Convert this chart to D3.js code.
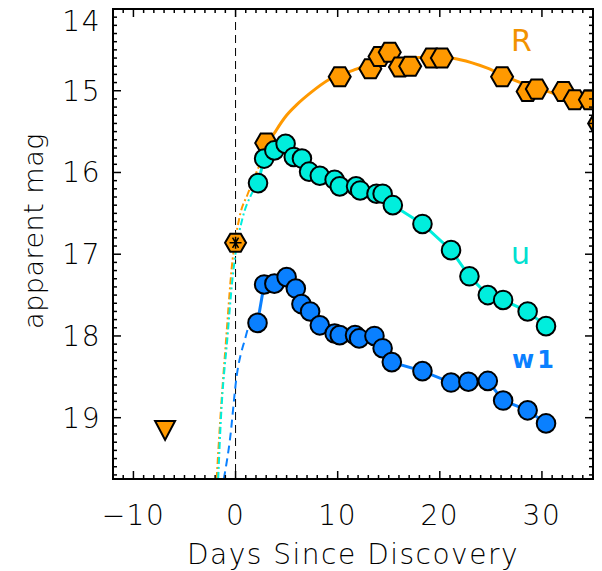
<!DOCTYPE html>
<html><head><meta charset="utf-8">
<script src="https://cdn.jsdelivr.net/npm/d3@7"></script>
<style>
html,body{margin:0;padding:0;background:#fff;}
svg text{font-family:"DejaVu Sans","Liberation Sans",sans-serif;font-weight:200;}
</style></head>
<body><svg id="c" width="602" height="571"></svg>
<script>
// ---- data ----
const rDays = [3.0,10.2,13.2,14.1,15.1,16.1,17.1,19.2,20.2,26.1,28.6,29.5,32.1,33.2,34.7,35.6];
const rMag  = [15.64,14.83,14.73,14.58,14.53,14.71,14.70,14.60,14.60,14.83,15.01,14.98,15.01,15.11,15.11,15.40];
const rDiscDay = [0.0];
const rDiscMag = [16.86];
const rLimDay = [-6.9];
const rLimMag = [19.15];
const uDays = [2.2,2.8,3.8,4.9,5.7,6.5,7.2,8.25,9.7,10.2,11.8,12.2,13.8,14.4,15.4,18.3,21.1,22.9,24.7,26.2,28.6,30.4];
const uMag  = [16.13,15.83,15.73,15.65,15.81,15.83,15.99,16.04,16.09,16.17,16.17,16.22,16.26,16.26,16.40,16.63,16.95,17.27,17.50,17.56,17.70,17.88];
const w1Days = [2.15,2.8,3.8,5.0,5.9,6.45,7.3,8.25,9.7,10.2,11.7,12.1,13.6,14.4,15.3,18.3,21.1,22.8,24.7,26.2,28.6,30.4];
const w1Mag  = [17.84,17.37,17.36,17.28,17.42,17.61,17.70,17.87,17.97,17.99,17.99,18.03,18.00,18.15,18.32,18.43,18.57,18.56,18.55,18.79,18.91,19.07];
// fitted / extrapolated curves
const rFitEarlyDays = [-1.85,-1.5,-0.9,-0.4,0.4,1.2,2.0,2.6];
const rFitEarlyMag  = [19.75,19.03,18.0,17.2,16.54,16.26,16.01,15.84];
const rFitDays = [2.6,3.0,4.0,5.0,6.0,7.3,9.2,11.5,13.1,15,17,19,21,22,24.6,27.1,29,31.1,33,35];
const rFitMag  = [15.84,15.70,15.48,15.30,15.17,15.03,14.86,14.75,14.68,14.63,14.60,14.59,14.60,14.62,14.72,14.86,14.95,15.03,15.10,15.17];
const uExtDays = [-1.7,-1.44,-0.78,-0.3,0.0,0.7,1.5,2.2];
const uExtMag  = [19.75,19.03,18.0,17.3,16.99,16.55,16.28,16.13];
const w1ExtDays = [-1.15,-0.56,0.1,0.9,1.7,2.15];
const w1ExtMag  = [19.75,19.28,18.5,18.05,17.78,17.84];
const xTicks = [-10,0,10,20,30];
const yTicks = [14,15,16,17,18,19];
const labels = ["R","u","w1"];

// ---- layout ----
const L=113, R=593, T=9, B=479;
const x = d3.scaleLinear().domain([-12,35]).range([L,R]);
const y = d3.scaleLinear().domain([14,19.75]).range([T,B]);
const svg = d3.select("#c");
const ORANGE="#FF9900", CYAN="#00EEDD", BLUE="#0A80FF";

svg.append("defs").append("clipPath").attr("id","clip")
  .append("rect").attr("x",L).attr("y",T).attr("width",R-L).attr("height",B-T);
const g = svg.append("g").attr("clip-path","url(#clip)");

// discovery line
g.append("line").attr("x1",x(0)).attr("x2",x(0)).attr("y1",T).attr("y2",B)
  .attr("stroke","#000").attr("stroke-width",1).attr("stroke-dasharray","8,5");

const zip=(a,b)=>a.map((v,i)=>[v,b[i]]);
const smooth = d3.line().x(d=>x(d[0])).y(d=>y(d[1])).curve(d3.curveMonotoneX);
const straight = d3.line().x(d=>x(d[0])).y(d=>y(d[1]));

g.append("path").attr("d",smooth(zip(rFitEarlyDays,rFitEarlyMag))).attr("fill","none")
  .attr("stroke",ORANGE).attr("stroke-width",2).attr("stroke-dasharray","7,3,2,3");
g.append("path").attr("d",smooth(zip(uExtDays,uExtMag))).attr("fill","none")
  .attr("stroke",CYAN).attr("stroke-width",2).attr("stroke-dasharray","7,3,2,3");
g.append("path").attr("d",smooth(zip(w1ExtDays,w1ExtMag))).attr("fill","none")
  .attr("stroke",BLUE).attr("stroke-width",2).attr("stroke-dasharray","8,5");
g.append("path").attr("d",smooth(zip(rFitDays,rFitMag))).attr("fill","none")
  .attr("stroke",ORANGE).attr("stroke-width",3);
g.append("path").attr("d",straight(zip(uDays,uMag))).attr("fill","none")
  .attr("stroke",CYAN).attr("stroke-width",3);
g.append("path").attr("d",straight(zip(w1Days,w1Mag))).attr("fill","none")
  .attr("stroke",BLUE).attr("stroke-width",3);

// markers
const hex = r => { const p=[]; for(let i=0;i<6;i++){const a=Math.PI/3*i; p.push([r*Math.cos(a), r*Math.sin(a)]);} return "M"+p.map(q=>q.join(",")).join("L")+"Z"; };
const H = hex(11);
g.selectAll(".lim").data(zip(rLimDay,rLimMag)).join("path")
  .attr("transform",d=>`translate(${x(d[0])},${y(d[1])})`)
  .attr("d","M-10,-9L10,-9L0,10Z").attr("fill",ORANGE).attr("stroke","#000").attr("stroke-width",2);
g.selectAll(".rh").data(zip(rDays,rMag)).join("path")
  .attr("transform",d=>`translate(${x(d[0])},${y(d[1])})`)
  .attr("d",H).attr("fill",ORANGE).attr("stroke","#000").attr("stroke-width",2);
const dg = g.selectAll(".rd").data(zip(rDiscDay,rDiscMag)).join("g")
  .attr("transform",d=>`translate(${x(d[0])},${y(d[1])})`);
dg.append("path").attr("d",hex(10.5)).attr("fill",ORANGE).attr("stroke","#000").attr("stroke-width",2);
dg.append("path").attr("d","M-6,0L6,0M-3,-5.2L3,5.2M3,-5.2L-3,5.2M0,-6L0,6").attr("stroke","#000").attr("stroke-width",1.5);
g.selectAll(".uc").data(zip(uDays,uMag)).join("circle")
  .attr("cx",d=>x(d[0])).attr("cy",d=>y(d[1])).attr("r",9.3)
  .attr("fill",CYAN).attr("stroke","#000").attr("stroke-width",2);
g.selectAll(".wc").data(zip(w1Days,w1Mag)).join("circle")
  .attr("cx",d=>x(d[0])).attr("cy",d=>y(d[1])).attr("r",9.3)
  .attr("fill",BLUE).attr("stroke","#000").attr("stroke-width",2);

// frame
svg.append("rect").attr("x",L).attr("y",T).attr("width",R-L).attr("height",B-T)
  .attr("fill","none").attr("stroke","#000").attr("stroke-width",2);

// ticks (inward, all four sides)
const tk = svg.append("g").attr("stroke","#000").attr("stroke-width",1.5);
d3.range(-12,35.01,1).forEach(v=>{
  const major = Math.abs(v%10)<1e-9; const len = major?8:4;
  tk.append("line").attr("x1",x(v)).attr("x2",x(v)).attr("y1",B).attr("y2",B-len);
  tk.append("line").attr("x1",x(v)).attr("x2",x(v)).attr("y1",T).attr("y2",T+len);
});
d3.range(140,197.6,1).forEach(k=>{
  const v=k/10; const major = k%10===0; const len = major?8:4;
  tk.append("line").attr("y1",y(v)).attr("y2",y(v)).attr("x1",L).attr("x2",L+len);
  tk.append("line").attr("y1",y(v)).attr("y2",y(v)).attr("x1",R).attr("x2",R-len);
});

// tick labels
const fmt = v => (v<0?"\u2212":"")+Math.abs(v);
svg.selectAll(".xl").data(xTicks).join("text")
  .attr("x",d=>x(d)).attr("y",525).attr("text-anchor","middle")
  .attr("font-size",28).attr("letter-spacing",1.5).attr("fill","#000").text(fmt);
svg.selectAll(".yl").data(yTicks).join("text")
  .attr("x",101).attr("y",d=>Math.max(y(d)+10,31)).attr("text-anchor","end")
  .attr("font-size",28).attr("letter-spacing",1.5).attr("fill","#000").text(fmt);

// axis titles
svg.append("text").attr("x",353).attr("y",564).attr("text-anchor","middle")
  .attr("font-size",28).attr("letter-spacing",1.5).attr("fill","#000").text("Days Since Discovery");
svg.append("text").attr("transform","translate(43,231) rotate(-90)").attr("text-anchor","middle")
  .attr("font-size",27).attr("letter-spacing",0.5).attr("fill","#000").text("apparent mag");

// series labels
const labPos = [[511,51,"#F29200",30,"normal"],[511,264,"#00E0D0",30,"normal"],[512,368,BLUE,24,"bold"]];
svg.selectAll(".sl").data(labels).join("text")
  .attr("x",(d,i)=>labPos[i][0]).attr("y",(d,i)=>labPos[i][1])
  .attr("font-size",(d,i)=>labPos[i][3]).style("font-weight",(d,i)=>labPos[i][4])
  .attr("letter-spacing",(d,i)=>i===2?3:0)
  .attr("fill",(d,i)=>labPos[i][2]).text(d=>d);
</script></body></html>
